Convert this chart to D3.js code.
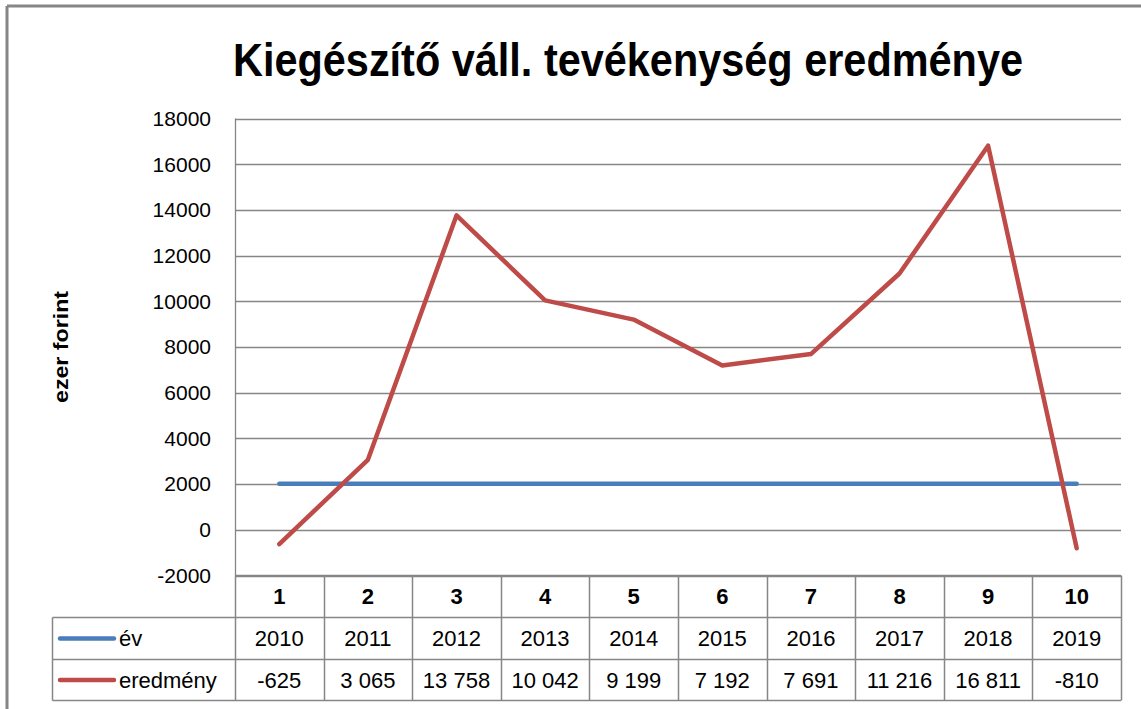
<!DOCTYPE html>
<html><head><meta charset="utf-8">
<script src="https://cdn.jsdelivr.net/npm/d3@7"></script>
<style>body{margin:0;background:#fff}svg{display:block}text{font-family:"Liberation Sans",Arial,sans-serif}</style>
</head><body>
<script>
const categories = ["1","2","3","4","5","6","7","8","9","10"];
const evValues = [2010,2011,2012,2013,2014,2015,2016,2017,2018,2019];
const eredmenyValues = [-625,3065,13758,10042,9199,7192,7691,11216,16811,-810];
const eredmenyLabels = ["-625","3 065","13 758","10 042","9 199","7 192","7 691","11 216","16 811","-810"];
const yTicks = [-2000,0,2000,4000,6000,8000,10000,12000,14000,16000,18000];
const seriesNames = ["év","eredmény"];
const colors = ["#4A7EBB","#BE4B48"];

const W=1141,H=709;
const svg=d3.select("body").append("svg").attr("width",W).attr("height",H);
svg.append("rect").attr("width",W).attr("height",H).attr("fill","#fff");
svg.append("line").attr("x1",7).attr("x2",W).attr("y1",6).attr("y2",6).attr("stroke","#868686").attr("stroke-width",3);
svg.append("line").attr("x1",7).attr("x2",7).attr("y1",6).attr("y2",H).attr("stroke","#868686").attr("stroke-width",3);

const L=235,R=1121,T=118.5,B=575.5;
const x=d3.scaleBand().domain(categories).range([L,R]);
const y=d3.scaleLinear().domain([-2000,18000]).range([B,T]);
const gray="#868686";

svg.append("g").selectAll("line").data(yTicks).join("line")
  .attr("x1",L).attr("x2",R).attr("y1",d=>Math.round(y(d))+0.5).attr("y2",d=>Math.round(y(d))+0.5)
  .attr("stroke",gray).attr("stroke-width",1.3);
svg.append("line").attr("x1",L+0.5).attr("x2",L+0.5).attr("y1",T).attr("y2",B).attr("stroke",gray).attr("stroke-width",1.3);
svg.append("g").selectAll("text").data(yTicks).join("text")
  .attr("x",211).attr("y",d=>y(d)).attr("dy","0.35em").attr("text-anchor","end")
  .attr("font-size",21).attr("fill","#000").text(d=>d);
svg.append("text").attr("transform","translate(68,347) rotate(-90)").attr("text-anchor","middle")
  .attr("font-size",21).attr("font-weight","bold").attr("textLength",112).attr("lengthAdjust","spacingAndGlyphs").text("ezer forint");
svg.append("text").attr("x",628).attr("y",76).attr("text-anchor","middle").attr("font-size",47)
  .attr("font-weight","bold").attr("textLength",790).attr("lengthAdjust","spacingAndGlyphs")
  .text("Kiegészítő váll. tevékenység eredménye");

const rows=[575.5,617.5,659.5,700.5];
const tl=52.5;
svg.append("line").attr("x1",L).attr("x2",R).attr("y1",rows[0]).attr("y2",rows[0]).attr("stroke",gray).attr("stroke-width",1.5);
[rows[1],rows[2],rows[3]].forEach(r=>svg.append("line").attr("x1",tl).attr("x2",R).attr("y1",r).attr("y2",r).attr("stroke",gray).attr("stroke-width",1.5));
svg.append("line").attr("x1",tl).attr("x2",tl).attr("y1",rows[1]).attr("y2",rows[3]).attr("stroke",gray).attr("stroke-width",1.5);
svg.append("g").selectAll("line").data(categories).join("line")
  .attr("x1",d=>Math.round(x(d))+0.5).attr("x2",d=>Math.round(x(d))+0.5).attr("y1",rows[0]).attr("y2",rows[3])
  .attr("stroke",gray).attr("stroke-width",1.5);
svg.append("line").attr("x1",R+0.5).attr("x2",R+0.5).attr("y1",rows[0]).attr("y2",rows[3]).attr("stroke",gray).attr("stroke-width",1.5);

const cx=d=>x(d)+x.bandwidth()/2;
svg.append("g").selectAll("text").data(categories).join("text")
  .attr("x",d=>cx(d)).attr("y",(rows[0]+rows[1])/2).attr("dy","0.35em").attr("text-anchor","middle")
  .attr("font-size",22).attr("font-weight","bold").text(d=>d);
svg.append("g").selectAll("text").data(evValues).join("text")
  .attr("x",(d,i)=>cx(categories[i])).attr("y",(rows[1]+rows[2])/2).attr("dy","0.35em").attr("text-anchor","middle")
  .attr("font-size",22).text(d=>d);
svg.append("g").selectAll("text").data(eredmenyLabels).join("text")
  .attr("x",(d,i)=>cx(categories[i])).attr("y",(rows[2]+rows[3])/2).attr("dy","0.35em").attr("text-anchor","middle")
  .attr("font-size",22).text(d=>d);
seriesNames.forEach((n,i)=>{
  const ym=(rows[i+1]+rows[i+2])/2;
  svg.append("line").attr("x1",60).attr("x2",114).attr("y1",ym).attr("y2",ym)
    .attr("stroke",colors[i]).attr("stroke-width",4.5).attr("stroke-linecap","round");
  svg.append("text").attr("x",119).attr("y",ym).attr("dy","0.35em").attr("font-size",22).text(n);
});

const line=d3.line().x((d,i)=>cx(categories[i])).y(d=>y(d));
[evValues,eredmenyValues].forEach((vals,i)=>{
  svg.append("path").datum(vals).attr("d",line).attr("fill","none")
    .attr("stroke",colors[i]).attr("stroke-width",4.5).attr("stroke-linejoin","round").attr("stroke-linecap","round");
});
</script>
</body></html>
